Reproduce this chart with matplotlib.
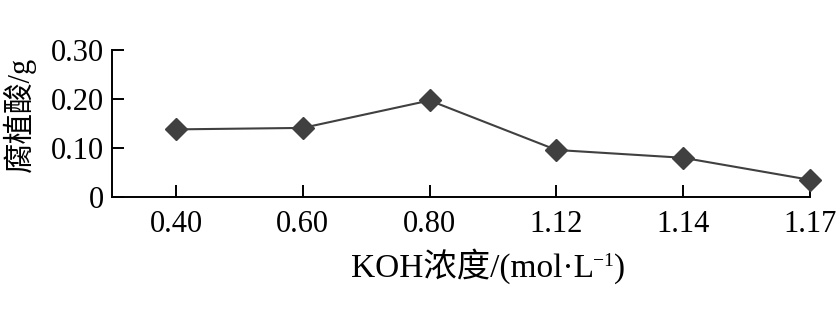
import matplotlib
matplotlib.use("Agg")
import matplotlib.pyplot as plt

categories = ["0.40", "0.60", "0.80", "1.12", "1.14", "1.17"]
values = [0.138, 0.141, 0.197, 0.096, 0.080, 0.035]
yticks = [0, 0.10, 0.20, 0.30]
ytick_labels = ["0", "0.10", "0.20", "0.30"]

fam = ['Liberation Serif', 'DejaVu Serif', 'Noto Sans CJK SC']
plt.rcParams['font.family'] = fam

W, H = 839, 318
fig = plt.figure(figsize=(W/100, H/100), dpi=100)
ax = fig.add_axes([112/W, 1-197/H, (810-112)/W, (197-50)/H])

x = list(range(len(categories)))
ax.plot(x, values, color='#404040', lw=1.5, marker='D', markersize=11,
        markerfacecolor='#404040', markeredgecolor='#404040', clip_on=False)

ax.set_xlim(-0.505, 5)
ax.set_ylim(0, 0.30)
ax.set_xticks(x)
ax.set_xticklabels(categories)
ax.set_yticks(yticks)
ax.set_yticklabels(ytick_labels)
for s in ['top', 'right']:
    ax.spines[s].set_visible(False)
for s in ['left', 'bottom']:
    ax.spines[s].set_linewidth(1.4)
ax.tick_params(direction='in', length=8.5, width=1.4, labelsize=22, colors='black')
ax.tick_params(axis='x', pad=9)
ax.tick_params(axis='y', pad=6)

# x label with manual superscript
base_y = 1 - 277/H
t1 = fig.text(0, base_y, 'KOH浓度/(mol·L', ha='left', va='baseline', fontsize=24)
t2 = fig.text(0, base_y + 11/H, '−1', ha='left', va='baseline', fontsize=14)
t3 = fig.text(0, base_y, ')', ha='left', va='baseline', fontsize=24)
fig.canvas.draw()
r = fig.canvas.get_renderer()
w1 = t1.get_window_extent(r).width
w2 = t2.get_window_extent(r).width
w3 = t3.get_window_extent(r).width
total = w1 + w2 + w3
x0 = 488 - total/2
t1.set_x(x0/W)
t2.set_x((x0 + w1)/W)
t3.set_x((x0 + w1 + w2)/W)

fig.text(19/W, 1-114/H, '腐植酸/g', ha='center', va='center', rotation=90, fontsize=22)

fig.savefig('out.png', dpi=100)
